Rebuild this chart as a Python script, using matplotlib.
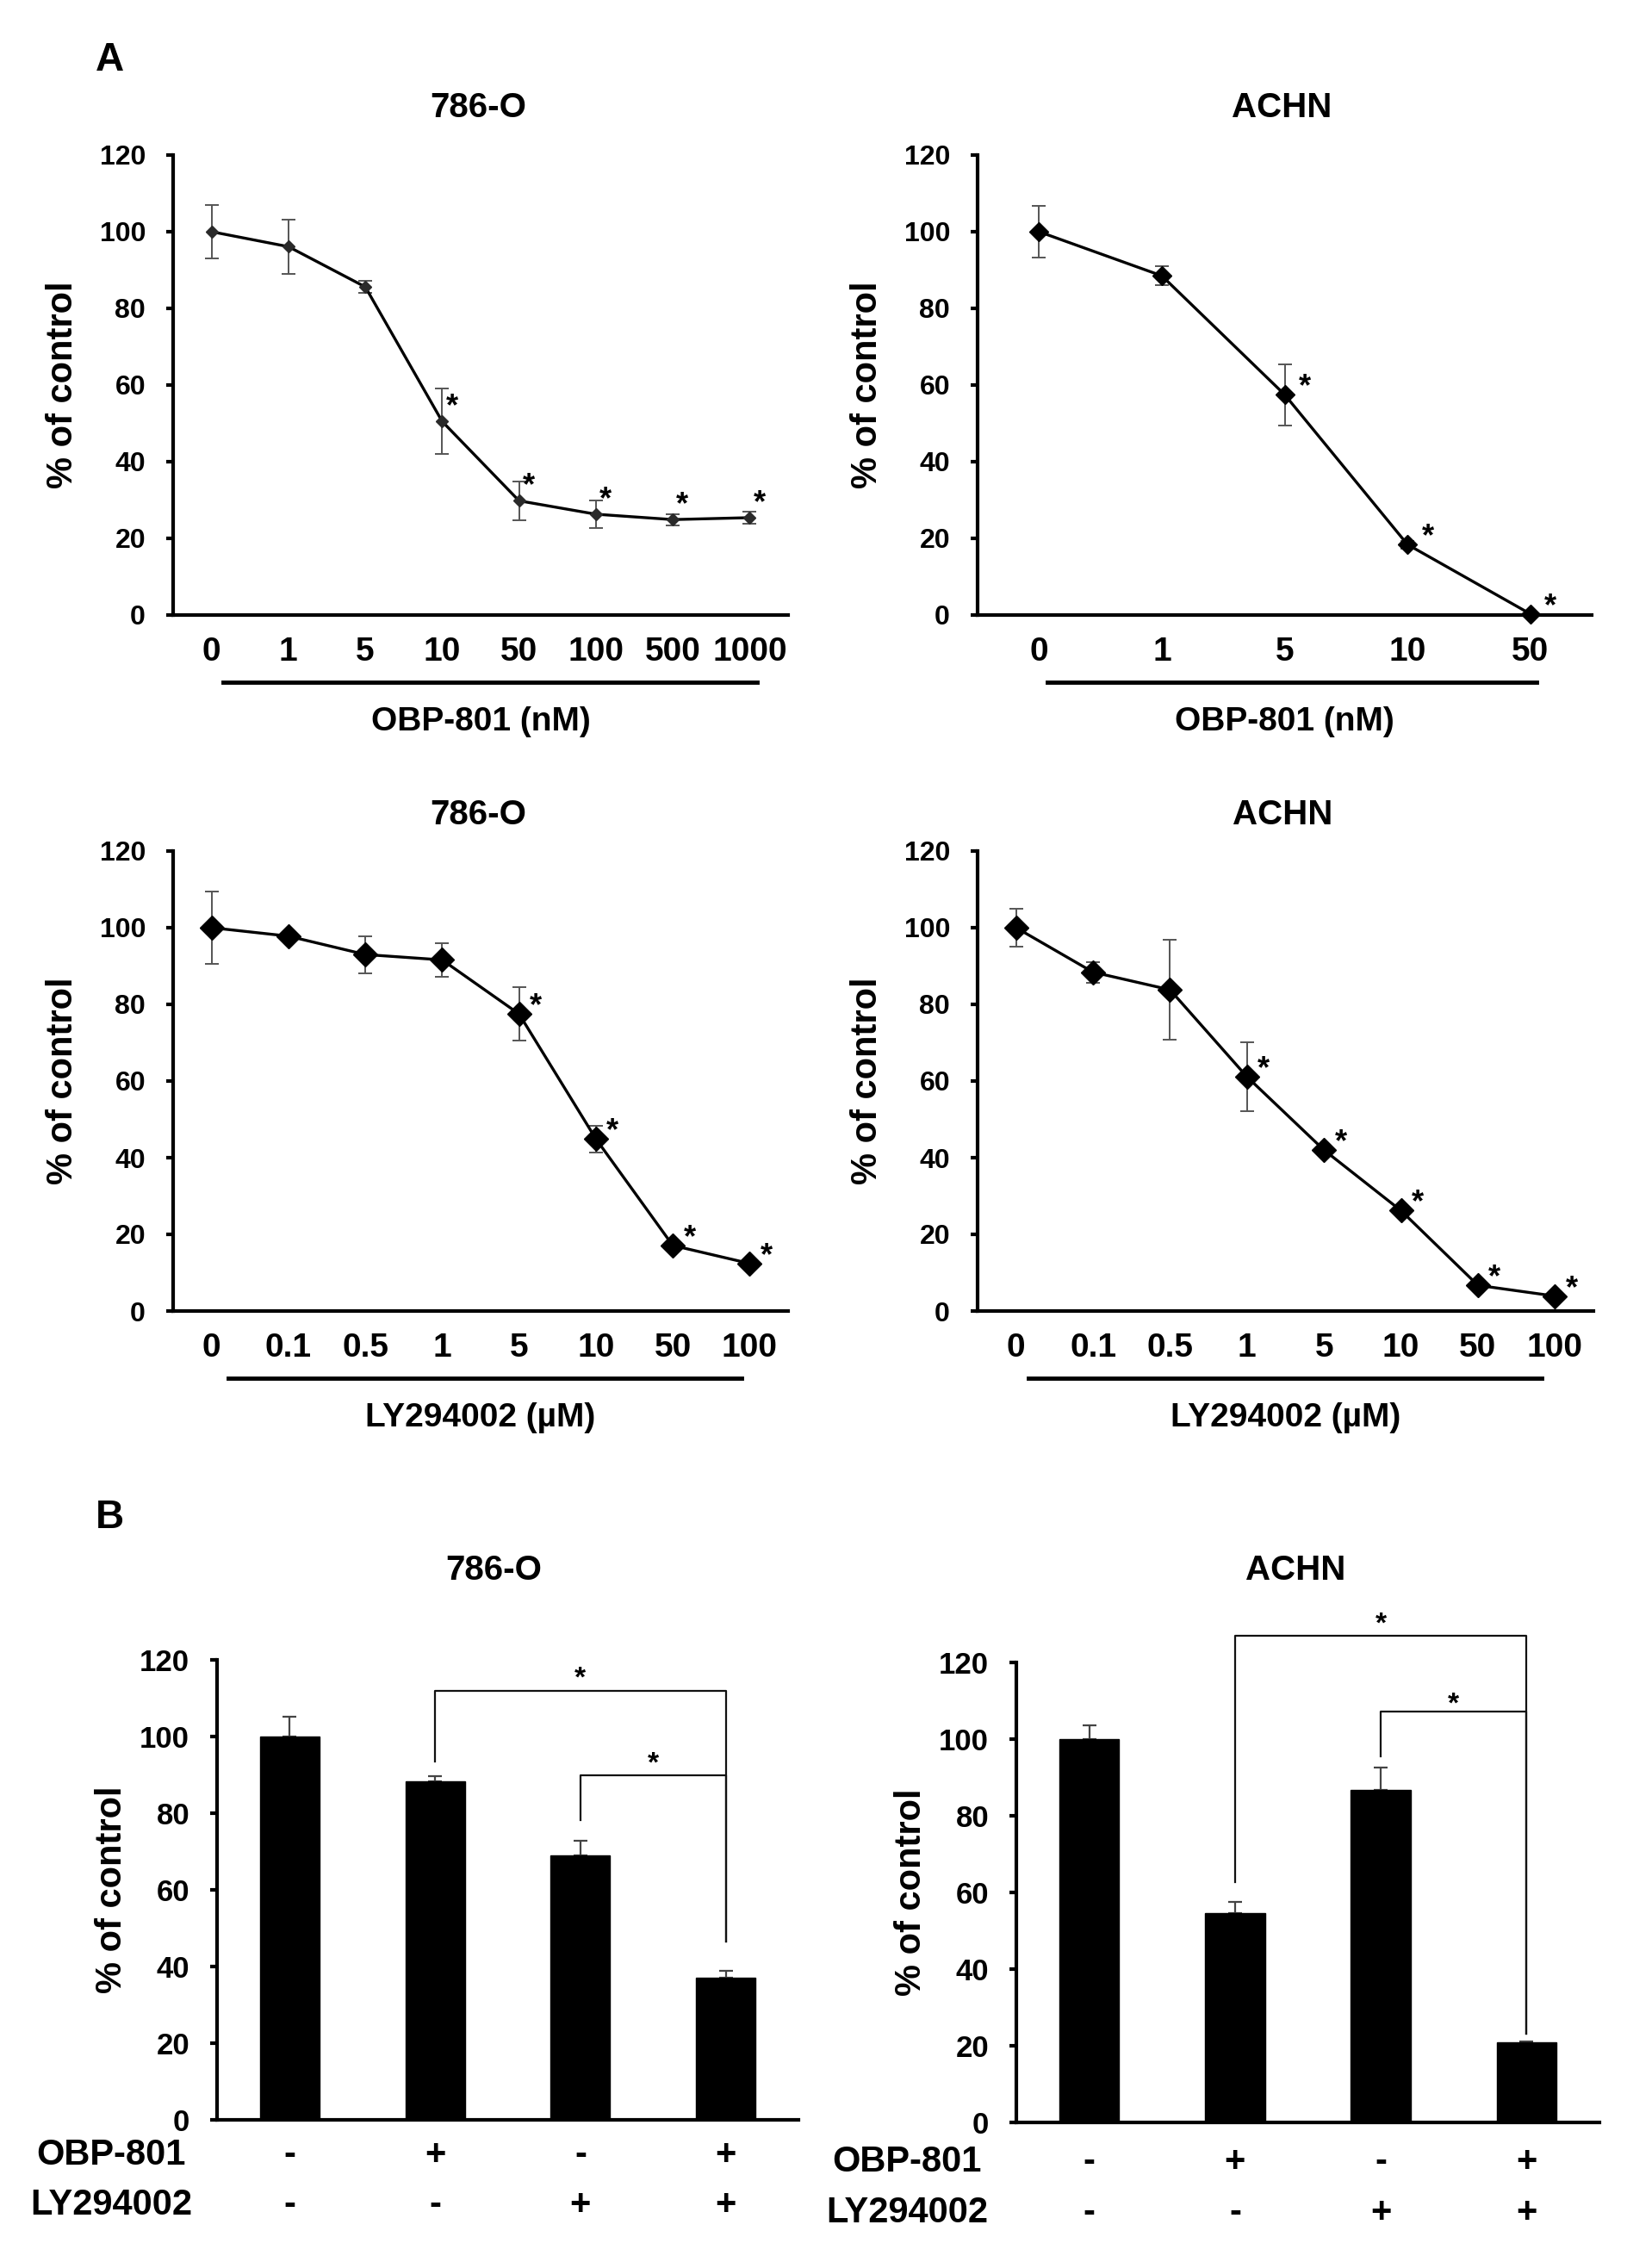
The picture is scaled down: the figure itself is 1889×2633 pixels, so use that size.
import numpy as np
import matplotlib
matplotlib.use("Agg")
from matplotlib import pyplot as plt
from matplotlib.lines import Line2D
from matplotlib.transforms import blended_transform_factory

plt.rcParams['font.family'] = ['Liberation Sans', 'DejaVu Sans']
plt.rcParams['font.weight'] = 'bold'

W, H = 1890, 2633

# ----- data -----
obp_786_labels = ['0', '1', '5', '10', '50', '100', '500', '1000']
obp_786_mean = [100, 96.1, 85.6, 50.5, 29.8, 26.3, 24.9, 25.4]
obp_786_err = [7, 7, 1.5, 8.5, 5, 3.5, 1.5, 1.5]
obp_786_sig = [0, 0, 0, 1, 1, 1, 1, 1]

obp_achn_labels = ['0', '1', '5', '10', '50']
obp_achn_mean = [100, 88.5, 57.5, 18.4, 0.3]
obp_achn_err = [6.7, 2.4, 8, 1, 0]
obp_achn_sig = [0, 0, 1, 1, 1]

ly_labels = ['0', '0.1', '0.5', '1', '5', '10', '50', '100']
ly_786_mean = [100, 97.8, 93, 91.6, 77.5, 44.9, 17.1, 12.4]
ly_786_err = [9.5, 1, 4.8, 4.3, 7, 3.5, 1, 0.5]
ly_786_sig = [0, 0, 0, 0, 1, 1, 1, 1]

ly_achn_mean = [100, 88.4, 83.8, 61.1, 42, 26.2, 6.7, 3.9]
ly_achn_err = [5, 2.7, 13, 9, 1, 1, 1, 1]
ly_achn_sig = [0, 0, 0, 1, 1, 1, 1, 1]

combo_786_mean = [100, 88.4, 68.9, 37.0]
combo_786_err = [5.1, 1.2, 3.8, 1.9]
combo_achn_mean = [100, 54.5, 86.7, 20.8]
combo_achn_err = [3.6, 3.1, 5.8, 0.3]
obp_signs = ['-', '+', '-', '+']
ly_signs = ['-', '-', '+', '+']


def fx(x):
    return x / W


def fy(y):
    return 1 - y / H


fig = plt.figure(figsize=(W / 100, H / 100), dpi=100)


def add_ax(l, r, t, b):
    ax = fig.add_axes([fx(l), fy(b), fx(r - l), (b - t) / H])
    ax.spines['top'].set_visible(False)
    ax.spines['right'].set_visible(False)
    for s in ['left', 'bottom']:
        ax.spines[s].set_linewidth(3)
    ax.set_ylim(0, 120)
    ax.set_yticks(range(0, 121, 20))
    ax.tick_params(axis='y', direction='out', length=6, width=3, pad=17)
    ax.tick_params(axis='x', length=0)
    return ax


def line_panel(box, labels, mean, err, sig, title, xlabel, under, ms, mcol, star_off,
               tsize=23):
    l, r, t, b = box
    ax = add_ax(l, r, t, b)
    x = np.arange(len(labels))
    ax.errorbar(x, mean, yerr=err, fmt='none', ecolor='#555555', elinewidth=1.4,
                capsize=6, capthick=1.4, zorder=2)
    ax.plot(x, mean, color='black', lw=2.4, marker='D', ms=ms, mfc=mcol, mec=mcol,
            zorder=3, clip_on=False)
    for i in range(len(x)):
        if sig[i]:
            ax.annotate('*', xy=(x[i], mean[i]), xytext=star_off, textcoords='offset points',
                        ha='center', va='center', fontsize=26, fontweight='bold')
    ax.set_xlim(-0.5, len(labels) - 0.5)
    ax.set_xticks(x)
    ax.set_xticklabels(labels, fontsize=28, fontweight='bold')
    ax.tick_params(axis='x', pad=18)
    for lab in ax.get_yticklabels():
        lab.set_fontsize(tsize)
        lab.set_fontweight('bold')
    # underline below the concentrations
    tr = blended_transform_factory(ax.transData, fig.transFigure)
    fig.add_artist(Line2D([under[0], under[1]], [fy(b + 78), fy(b + 78)], transform=tr,
                          color='black', lw=3.5))
    cx = (l + r) / 2
    fig.text(fx(cx), fy(b + 124), xlabel, ha='center', va='center', fontsize=28,
             fontweight='bold')
    fig.text(fx(cx - 3), fy(t - 55 if t < 500 else t - 42), title, ha='center', va='center',
             fontsize=29, fontweight='bold')
    fig.text(fx(l - 128), fy((t + b) / 2), '% of control', rotation=90, ha='center',
             va='center', fontsize=30, fontweight='bold')
    return ax


# ----- panel A -----
fig.text(fx(127), fy(70), 'A', ha='center', va='center', fontsize=33, fontweight='bold')

line_panel((201, 915, 180, 714), obp_786_labels, obp_786_mean, obp_786_err, obp_786_sig,
           '786-O', 'OBP-801 (nM)', (0.15, 7.1), 7, '#2a2a2a', (8, 12))
line_panel((1135, 1848, 180, 714), obp_achn_labels, obp_achn_mean, obp_achn_err,
           obp_achn_sig, 'ACHN', 'OBP-801 (nM)', (0.07, 4.05), 11, 'black', (17, 6))
line_panel((201, 915, 988, 1522), ly_labels, ly_786_mean, ly_786_err, ly_786_sig,
           '786-O', 'LY294002 (\u00b5M)', (0.22, 6.9), 14, 'black', (14, 6))
line_panel((1135, 1850, 988, 1522), ly_labels, ly_achn_mean, ly_achn_err, ly_achn_sig,
           'ACHN', 'LY294002 (\u00b5M)', (0.16, 6.83), 14, 'black', (14, 6))


# ----- panel B -----
def bar_panel(box, mean, err, title, title_x, brackets, sign_x, sign_y):
    l, r, t, b = box
    ax = add_ax(l, r, t, b)
    x = np.arange(len(mean))
    ax.bar(x, mean, width=0.41, color='black', edgecolor='black', zorder=2)
    ax.errorbar(x, mean, yerr=[np.zeros(len(err)), err], fmt='none', ecolor='#444444',
                elinewidth=1.6, capsize=6, capthick=1.6, zorder=1)
    ax.set_xlim(-0.5, len(mean) - 0.5)
    ax.set_xticks([])
    for lab in ax.get_yticklabels():
        lab.set_fontsize(25)
        lab.set_fontweight('bold')
    for (i0, i1, ytop, drop0, drop1, ystar) in brackets:
        ax.plot([i0, i0, i1, i1], [drop0, ytop, ytop, drop1], color='#111111', lw=1.6,
                clip_on=False)
        ax.annotate('*', xy=((i0 + i1) / 2, ystar), xytext=(0, -8), textcoords='offset points',
                    ha='center', va='center', fontsize=24, fontweight='bold',
                    annotation_clip=False)
    tr = blended_transform_factory(ax.transData, fig.transFigure)
    for i in range(len(mean)):
        fig.text(i, fy(sign_y[0]), obp_signs[i], transform=tr, ha='center', va='center',
                 fontsize=30, fontweight='bold')
        fig.text(i, fy(sign_y[1]), ly_signs[i], transform=tr, ha='center', va='center',
                 fontsize=30, fontweight='bold')
    fig.text(fx(sign_x), fy(sign_y[0]), 'OBP-801', ha='center', va='center', fontsize=30,
             fontweight='bold')
    fig.text(fx(sign_x), fy(sign_y[1]), 'LY294002', ha='center', va='center', fontsize=30,
             fontweight='bold')
    fig.text(fx(title_x), fy(1823), title, ha='center', va='center', fontsize=29,
             fontweight='bold')
    fig.text(fx(l - 122), fy((t + b) / 2), '% of control', rotation=90, ha='center',
             va='center', fontsize=30, fontweight='bold')
    return ax


fig.text(fx(127), fy(1762), 'B', ha='center', va='center', fontsize=33, fontweight='bold')

bar_panel((252, 927, 1927, 2461), combo_786_mean, combo_786_err, '786-O', 573,
          [(1, 3, 111.8, 93.4, 46.6, 117.5), (2, 3, 90.0, 78.3, 46.6, 95.4)],
          129, (2502, 2560))
bar_panel((1180, 1857, 1930, 2464), combo_achn_mean, combo_achn_err, 'ACHN', 1504,
          [(1, 3, 126.9, 62.7, 23.2, 132.3), (2, 3, 107.1, 95.4, 23.2, 111.5)],
          1053, (2510, 2569))

fig.savefig('out.png', dpi=100, facecolor='white')
